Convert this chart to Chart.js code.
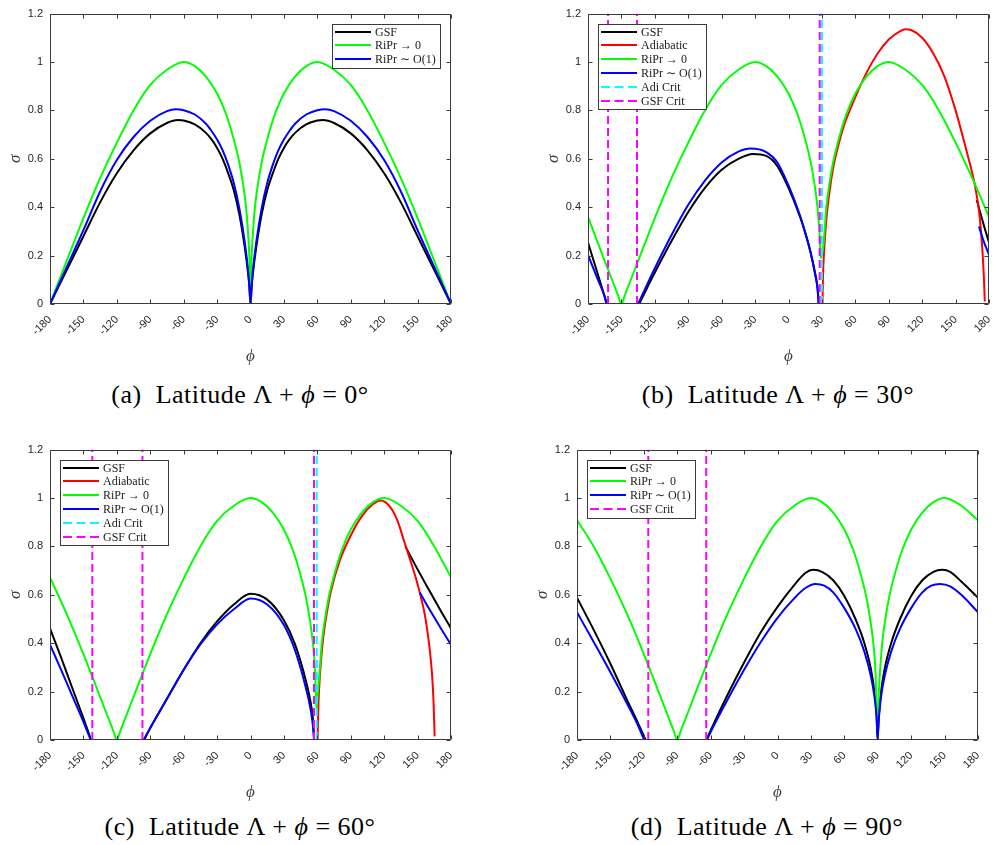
<!DOCTYPE html>
<html><head><meta charset="utf-8">
<script src="https://cdn.jsdelivr.net/npm/chart.js@4.4.1/dist/chart.umd.min.js"></script>
<style>
html,body{margin:0;padding:0;background:#fff;}
#fig{position:relative;width:1001px;height:845px;overflow:hidden;background:#fff;}
canvas{position:absolute;}
.cap{position:absolute;width:400px;text-align:center;font-family:"Liberation Serif","Times New Roman",serif;font-size:26px;letter-spacing:0.5px;line-height:30px;color:#000;white-space:nowrap;}
</style></head><body>
<div id="fig">
<canvas id="ca" width="470" height="372" style="left:0px;top:0px"></canvas>
<canvas id="cb" width="470" height="372" style="left:538px;top:0px"></canvas>
<canvas id="cc" width="470" height="372" style="left:0px;top:436px"></canvas>
<canvas id="cd" width="470" height="372" style="left:527px;top:436px"></canvas>
<div class="cap" style="left:40px;top:380px">(a)&nbsp; Latitude Λ + <i>ϕ</i> = 0°</div>
<div class="cap" style="left:578px;top:380px">(b)&nbsp; Latitude Λ + <i>ϕ</i> = 30°</div>
<div class="cap" style="left:40px;top:812px">(c)&nbsp; Latitude Λ + <i>ϕ</i> = 60°</div>
<div class="cap" style="left:567px;top:812px">(d)&nbsp; Latitude Λ + <i>ϕ</i> = 90°</div>
</div>
<script>
// ---------- labels & ticks ----------
const seriesNames = {gsf:'GSF', adi:'Adiabatic', rip0:'RiPr → 0', rip1:'RiPr ∼ O(1)', adiCrit:'Adi Crit', gsfCrit:'GSF Crit'};
const xTicks = [-180,-150,-120,-90,-60,-30,0,30,60,90,120,150,180];
const yTicks = [0,0.2,0.4,0.6,0.8,1,1.2];
const yTickLabels = ['0','0.2','0.4','0.6','0.8','1','1.2'];
const xTitle = 'ϕ';
const yTitle = 'σ';

// ---------- panel (a): latitude 0 ----------
const a_phi = [-180,-165,-150,-135,-120,-105,-90,-75,-65,-60,-50,-40,-35,-30,-25,-20,-15,-10,-5,-2,-1,0,1,2,5,10,15,20,25,30,35,40,50,60,65,75,90,105,120,135,150,165,180];
const a_gsf = [0,0.14,0.28,0.42,0.54,0.635,0.705,0.748,0.76,0.758,0.742,0.707,0.68,0.645,0.6,0.54,0.47,0.37,0.23,0.12,0.07,0,0.07,0.12,0.23,0.37,0.47,0.54,0.6,0.645,0.68,0.707,0.742,0.758,0.76,0.748,0.705,0.635,0.54,0.42,0.28,0.14,0];
const a_phi1 = [-180,-165,-150,-135,-120,-105,-90,-75,-67,-60,-50,-40,-35,-30,-25,-20,-15,-10,-5,-2,-1,0,1,2,5,10,15,20,25,30,35,40,50,60,67,75,90,105,120,135,150,165,180];
const a_rip1 = [0,0.152,0.305,0.465,0.595,0.69,0.757,0.797,0.805,0.801,0.783,0.745,0.715,0.68,0.635,0.575,0.5,0.395,0.25,0.13,0.075,0,0.075,0.13,0.25,0.395,0.5,0.575,0.635,0.68,0.715,0.745,0.783,0.801,0.805,0.797,0.757,0.69,0.595,0.465,0.305,0.152,0];
const a_phi0 = [-180,-165,-150,-135,-120,-105,-90,-75,-60,-50,-40,-30,-22,-15,-10,-7,-4,-2,-1,0,1,2,4,7,10,15,22,30,40,50,60,75,90,105,120,135,150,165,180];
const a_rip0 = [0,0.178,0.355,0.52,0.667,0.8,0.905,0.968,1.0,0.983,0.94,0.87,0.785,0.68,0.585,0.505,0.4,0.28,0.19,0,0.19,0.28,0.4,0.505,0.585,0.68,0.785,0.87,0.94,0.983,1.0,0.968,0.905,0.8,0.667,0.52,0.355,0.178,0];

// ---------- panel (b): latitude 30 ----------
const b_phiGsf = [-180,-175,-170,-165,-163,-150,-134,-125,-120,-105,-90,-75,-60,-45,-32,-20,-10,0,10,15,20,24,26,27.3,100,169,172,176,180];
const b_gsf = [0.254,0.18,0.105,0.03,0,null,0,0.085,0.13,0.26,0.38,0.48,0.555,0.6,0.62,0.612,0.57,0.48,0.365,0.295,0.21,0.125,0.07,0,null,0.43,0.38,0.315,0.254];
const b_phiRip1 = [-180,-175,-170,-165,-163.5,-150,-135,-125,-120,-105,-90,-75,-60,-45,-34,-20,-10,0,10,15,20,24,26,27,100,171,175,180];
const b_rip1 = [0.203,0.145,0.088,0.03,0,null,0,0.1,0.148,0.285,0.41,0.51,0.585,0.63,0.643,0.628,0.585,0.49,0.37,0.295,0.21,0.12,0.065,0,null,0.32,0.262,0.203];
const b_phiRip0 = [-180,-165,-153,-150,-147,-135,-120,-105,-90,-75,-60,-45,-30,-20,-10,0,8,15,20,23,26,28,29,31,32,34,37,40,45,52,60,70,80,90,105,120,135,150,165,180];
const b_rip0 = [0.36,0.178,0.036,0,0.036,0.178,0.355,0.52,0.667,0.8,0.905,0.968,1.0,0.983,0.94,0.87,0.785,0.68,0.585,0.505,0.4,0.28,0.19,0.23,0.28,0.4,0.505,0.585,0.68,0.785,0.87,0.94,0.983,1.0,0.968,0.905,0.8,0.667,0.52,0.36];
const b_phiAdi = [30.5,31,32,34,37,40,45,50,55,60,70,80,90,100,105,110,120,130,140,150,160,165,168,171,173,174.5,175.5,176.2];
const b_adi = [0,0.12,0.22,0.35,0.47,0.56,0.66,0.74,0.8,0.855,0.955,1.035,1.093,1.127,1.135,1.132,1.1,1.035,0.94,0.8,0.63,0.54,0.475,0.385,0.29,0.19,0.1,0.01];
const b_adiCrit = [30];
const b_gsfCrit = [-162,-136,28];

// ---------- panel (c): latitude 60 ----------
const c_phiGsf = [-180,-170,-160,-150,-143,-120,-95.5,-90,-75,-60,-45,-30,-15,0,15,30,40,50,54,56,57.2,100,139,150,160,170,180];
const c_gsf = [0.461,0.34,0.215,0.09,0,null,0,0.05,0.17,0.29,0.4,0.49,0.56,0.604,0.58,0.495,0.395,0.24,0.155,0.09,0,null,0.8,0.705,0.622,0.54,0.461];
const c_phiRip1 = [-180,-170,-160,-150,-143.5,-120,-96,-90,-75,-60,-45,-30,-15,0,15,30,40,50,54,56,57,100,152,160,170,180];
const c_rip1 = [0.394,0.29,0.182,0.075,0,null,0,0.05,0.17,0.29,0.395,0.478,0.54,0.585,0.56,0.475,0.37,0.21,0.125,0.06,0,null,0.61,0.545,0.468,0.394];
const c_phiRip0 = [-180,-165,-150,-135,-123,-120,-117,-105,-90,-75,-60,-45,-30,-15,0,10,20,30,38,45,50,53,56,58,59,60.5,62,64,67,70,75,82,90,100,110,120,135,150,165,180];
const c_rip0 = [0.672,0.52,0.355,0.178,0.036,0,0.036,0.178,0.355,0.52,0.667,0.8,0.905,0.968,1.0,0.983,0.94,0.87,0.785,0.68,0.585,0.505,0.4,0.28,0.13,0.2,0.28,0.4,0.505,0.585,0.68,0.785,0.87,0.94,0.983,1.0,0.968,0.905,0.8,0.672];
const c_phiAdi = [60.2,61,62.5,65,68,72,80,90,100,110,117,125,132,138,144,149,153,156,158.5,161,163,164.3,165.3];
const c_adi = [0,0.15,0.28,0.41,0.51,0.61,0.74,0.845,0.925,0.975,0.99,0.965,0.905,0.82,0.735,0.66,0.59,0.53,0.46,0.37,0.27,0.16,0.015];
const c_adiCrit = [59.5];
const c_gsfCrit = [-142,-97,57];

// ---------- panel (d): latitude 90 ----------
const d_phiGsf = [-180,-165,-150,-135,-125,-118.4,-100,-63.9,-60,-45,-30,-15,0,15,25,32,40,50,60,70,78,84,87,89,89.8,91,93,96,102,110,120,130,140,148,155,165,180];
const d_gsf = [0.588,0.455,0.315,0.165,0.068,0,null,0,0.04,0.185,0.32,0.445,0.55,0.64,0.69,0.703,0.695,0.66,0.595,0.5,0.4,0.29,0.2,0.1,0.005,0.1,0.2,0.29,0.4,0.5,0.595,0.66,0.695,0.703,0.695,0.655,0.588];
const d_phiRip1 = [-180,-165,-150,-135,-125,-119.6,-100,-63.3,-60,-45,-30,-15,0,15,25,34,42,50,60,70,78,84,87,89,89.8,91,93,96,102,110,120,130,138,146,155,165,180];
const d_rip1 = [0.528,0.405,0.28,0.15,0.058,0,null,0,0.033,0.165,0.29,0.405,0.505,0.585,0.628,0.645,0.638,0.61,0.545,0.46,0.365,0.26,0.18,0.09,0.005,0.09,0.18,0.26,0.365,0.46,0.545,0.61,0.638,0.645,0.635,0.6,0.528];
const d_phiRip0 = [-180,-165,-150,-135,-120,-105,-93,-90,-87,-75,-60,-45,-30,-15,0,15,30,40,50,60,68,75,80,83,86,88,89.5,91,92,94,97,100,105,112,120,130,140,150,165,180];
const d_rip0 = [0.908,0.8,0.667,0.52,0.355,0.178,0.036,0,0.036,0.178,0.355,0.52,0.667,0.8,0.905,0.968,1.0,0.983,0.94,0.87,0.785,0.68,0.585,0.505,0.4,0.28,0.04,0.2,0.28,0.4,0.505,0.585,0.68,0.785,0.87,0.94,0.983,1.0,0.968,0.908];
const d_gsfCrit = [-116,-64];

// ---------- styles ----------
const STYLE = {
  gsf:{color:'#000000', width:2},
  adi:{color:'#ff0000', width:2},
  rip0:{color:'#00ff00', width:2},
  rip1:{color:'#0000ff', width:2},
  adiCrit:{color:'#00ffff', width:2, dash:[8,4]},
  gsfCrit:{color:'#ff00ff', width:2, dash:[8,4]}
};
const AXIS_COLOR = '#3a3a3a';
const TICK_FONT = {family:'"Liberation Sans", Arial, sans-serif', size:11};
const TITLE_FONT = {family:'"Liberation Serif", "DejaVu Serif", serif', size:17, style:'italic'};

function pts(phi, sig){ return phi.map((p,i)=>({x:p, y:sig[i]})); }
function vlines(xs){
  const out=[];
  xs.forEach((v,i)=>{ if(i) out.push({x:v, y:null}); out.push({x:v,y:yTicks[0]},{x:v,y:yTicks[yTicks.length-1]}); });
  return out;
}
function ds(key, data, curve){
  const s = STYLE[key];
  return {label:seriesNames[key], data, borderColor:s.color, backgroundColor:s.color, borderWidth:s.width,
    borderDash:s.dash||[], pointRadius:0, pointHoverRadius:0, fill:false, spanGaps:false,
    tension:0, cubicInterpolationMode: curve ? 'monotone' : 'default'};
}

const boxPlugin = {
  id:'mbox',
  afterDatasetsDraw(chart){
    const {ctx, chartArea:a, scales:{x,y}} = chart;
    ctx.save();
    ctx.strokeStyle = AXIS_COLOR; ctx.lineWidth = 1; ctx.setLineDash([]);
    const L=Math.round(a.left)+0.5, T=Math.round(a.top)+0.5, R=Math.round(a.right)-0.5, B=Math.round(a.bottom)-0.5;
    ctx.beginPath();
    ctx.rect(L,T,R-L,B-T);
    x.ticks.forEach(t=>{ const px=Math.round(x.getPixelForValue(t.value))+0.5; ctx.moveTo(px,B); ctx.lineTo(px,B-4); ctx.moveTo(px,T); ctx.lineTo(px,T+4); });
    y.ticks.forEach(t=>{ const py=Math.round(y.getPixelForValue(t.value))+0.5; ctx.moveTo(L,py); ctx.lineTo(L+4,py); ctx.moveTo(R,py); ctx.lineTo(R-4,py); });
    ctx.stroke();
    ctx.restore();
  }
};
const legendPlugin = {
  id:'mlegend',
  afterDraw(chart, args, opts){
    const keys = opts.keys; if(!keys) return;
    const a = chart.chartArea, ctx = chart.ctx;
    const w=108, rowH=13.9, h=Math.round(keys.length*rowH+2);
    const left = Math.round(opts.side==='right' ? a.right - 11 - w : a.left + 10);
    const top = Math.round(a.top + 10);
    ctx.save();
    ctx.fillStyle='#fff'; ctx.fillRect(left,top,w,h);
    ctx.strokeStyle=AXIS_COLOR; ctx.lineWidth=1; ctx.setLineDash([]);
    ctx.strokeRect(left+0.5, top+0.5, w, h);
    keys.forEach((k,i)=>{
      const s=STYLE[k]; const yy = Math.round(top + 7.5 + i*rowH);
      ctx.strokeStyle=s.color; ctx.lineWidth=s.width; ctx.setLineDash(s.dash ? [9,4.5] : []);
      ctx.beginPath(); ctx.moveTo(left+3, yy); ctx.lineTo(left+39, yy); ctx.stroke();
      ctx.setLineDash([]);
      ctx.fillStyle='#1a1a1a'; ctx.font='12px "Liberation Serif", "DejaVu Serif", serif';
      ctx.textBaseline='middle'; ctx.textAlign='left';
      ctx.fillText(seriesNames[k], left+43, yy+0.5);
    });
    ctx.restore();
  }
};

function makeChart(id, datasets, legendKeys, side){
  new Chart(document.getElementById(id), {
    type:'line',
    data:{datasets},
    plugins:[boxPlugin, legendPlugin],
    options:{
      responsive:false, animation:false, devicePixelRatio:1,
      layout:{padding:{left:0, top:5, right:19, bottom:0}},
      plugins:{legend:{display:false}, tooltip:{enabled:false}, mlegend:{keys:legendKeys, side}},
      scales:{
        x:{type:'linear', min:xTicks[0], max:xTicks[xTicks.length-1],
          afterBuildTicks:s=>{ s.ticks = xTicks.map(v=>({value:v})); },
          afterFit:s=>{ s.height = 68; },
          grid:{display:false, drawTicks:false}, border:{display:false},
          ticks:{autoSkip:false, minRotation:45, maxRotation:45, padding:9, color:'#262626', font:TICK_FONT,
            callback:(v,i)=>String(xTicks[i])},
          title:{display:true, text:xTitle, color:'#404040', font:TITLE_FONT, padding:{top:0,bottom:5}}},
        y:{type:'linear', min:yTicks[0], max:yTicks[yTicks.length-1],
          afterBuildTicks:s=>{ s.ticks = yTicks.map(v=>({value:v})); },
          afterFit:s=>{ s.width = 50; },
          grid:{display:false, drawTicks:false}, border:{display:false},
          ticks:{padding:7, color:'#262626', font:TICK_FONT, callback:(v,i)=>yTickLabels[i]},
          title:{display:true, text:yTitle, color:'#404040', font:TITLE_FONT, padding:{top:5,bottom:0}}}
      }
    }
  });
}

// datasets listed top-most first
makeChart('ca', [
  ds('rip1', pts(a_phi1, a_rip1), true),
  ds('rip0', pts(a_phi0, a_rip0), true),
  ds('gsf', pts(a_phi, a_gsf), true)
], ['gsf','rip0','rip1'], 'right');

makeChart('cb', [
  ds('gsfCrit', vlines(b_gsfCrit), false),
  ds('adiCrit', vlines(b_adiCrit), false),
  ds('rip1', pts(b_phiRip1, b_rip1), true),
  ds('rip0', pts(b_phiRip0, b_rip0), true),
  ds('adi', pts(b_phiAdi, b_adi), true),
  ds('gsf', pts(b_phiGsf, b_gsf), true)
], ['gsf','adi','rip0','rip1','adiCrit','gsfCrit'], 'left');

makeChart('cc', [
  ds('gsfCrit', vlines(c_gsfCrit), false),
  ds('adiCrit', vlines(c_adiCrit), false),
  ds('rip1', pts(c_phiRip1, c_rip1), true),
  ds('rip0', pts(c_phiRip0, c_rip0), true),
  ds('adi', pts(c_phiAdi, c_adi), true),
  ds('gsf', pts(c_phiGsf, c_gsf), true)
], ['gsf','adi','rip0','rip1','adiCrit','gsfCrit'], 'left');

makeChart('cd', [
  ds('gsfCrit', vlines(d_gsfCrit), false),
  ds('rip1', pts(d_phiRip1, d_rip1), true),
  ds('rip0', pts(d_phiRip0, d_rip0), true),
  ds('gsf', pts(d_phiGsf, d_gsf), true)
], ['gsf','rip0','rip1','gsfCrit'], 'left');
</script>
</body></html>
